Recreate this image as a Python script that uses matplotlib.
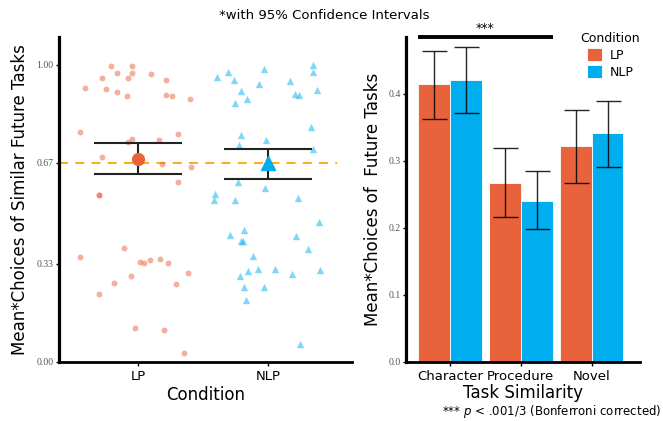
import numpy as np
import matplotlib.pyplot as plt

lp_color = '#E8623C'
nlp_color = '#00AEEF'

# left panel: one point per participant (horizontal jitter, mean choice)
lp_jit = [-0.208, -0.048, -0.164, -0.044, -0.275, -0.075, 0.100, 0.218, -0.410, -0.248,
          -0.164, -0.085, 0.213, 0.264, 0.398, -0.446, -0.079, -0.044, 0.164, 0.308,
          -0.282, 0.182, 0.405, 0.310, -0.305, -0.300, -0.446, -0.108, 0.013, 0.044,
          0.095, 0.172, 0.231, -0.052, -0.187, -0.305, 0.295, 0.382, -0.025, 0.198, 0.352]
lp_vals = [0.997, 0.997, 0.974, 0.974, 0.957, 0.957, 0.969, 0.949, 0.923, 0.918,
           0.907, 0.894, 0.898, 0.894, 0.885, 0.775, 0.741, 0.750, 0.747, 0.768,
           0.691, 0.667, 0.657, 0.606, 0.562, 0.560, 0.352, 0.383, 0.337, 0.332,
           0.344, 0.347, 0.334, 0.290, 0.266, 0.228, 0.261, 0.299, 0.115, 0.106, 0.028]
nlp_jit = [-0.395, -0.310, -0.264, -0.027, -0.069, -0.204, -0.163, -0.256, 0.169, 0.352,
           0.345, 0.212, 0.240, 0.378, 0.333, -0.210, -0.014, -0.225, 0.350, -0.231,
           -0.025, -0.408, -0.417, -0.254, 0.233, 0.394, -0.292, -0.182, -0.210, -0.188,
           0.215, 0.310, -0.113, -0.215, -0.152, -0.075, 0.054, 0.190, 0.400, -0.182,
           -0.028, -0.167, 0.252]
nlp_vals = [0.960, 0.976, 0.949, 0.986, 0.934, 0.911, 0.886, 0.872, 0.946, 1.001,
            0.976, 0.903, 0.900, 0.915, 0.792, 0.764, 0.746, 0.729, 0.715, 0.606,
            0.585, 0.564, 0.543, 0.546, 0.553, 0.469, 0.428, 0.443, 0.408, 0.408,
            0.424, 0.381, 0.357, 0.289, 0.306, 0.311, 0.312, 0.295, 0.308, 0.252,
            0.253, 0.209, 0.059]

cond_labels = ['LP', 'NLP']
cond_means = [0.683, 0.669]
cond_lo = [0.632, 0.616]
cond_hi = [0.736, 0.716]
chance = 0.67

# right panel: mean choices by task similarity
sim_labels = ['Character', 'Procedure', 'Novel']
lp_bar = [0.414, 0.267, 0.3225]
lp_lo = [0.362, 0.216, 0.2674]
lp_hi = [0.4635, 0.319, 0.3756]
nlp_bar = [0.420, 0.2405, 0.341]
nlp_lo = [0.3717, 0.1978, 0.2906]
nlp_hi = [0.4705, 0.2847, 0.3896]

fig = plt.figure(figsize=(6.63, 4.21), dpi=100)
tick_font = dict(family='Liberation Serif', size=7, color='#555555')

# ---- left panel ----
ax = fig.add_axes([0.089, 0.141, 0.442, 0.772])
ax.scatter(1 + np.array(lp_jit), lp_vals, s=18, marker='o', color=lp_color,
           alpha=0.5, linewidths=0, zorder=2)
ax.scatter(2 + np.array(nlp_jit), nlp_vals, s=28, marker='^', color=nlp_color,
           alpha=0.5, linewidths=0, zorder=2)
ax.axhline(chance, xmax=0.95, color='#FFA500', lw=1.3, dashes=(5, 4), zorder=1)
for i, (m, lo, hi) in enumerate(zip(cond_means, cond_lo, cond_hi)):
    ax.errorbar(i + 1, m, yerr=[[m - lo], [hi - m]], color='#222222', lw=1.5,
                capsize=32, capthick=1.5, fmt='none', zorder=3)
ax.plot(1, cond_means[0], 'o', color=lp_color, ms=8.5, zorder=4)
ax.plot(2, cond_means[1], '^', color=nlp_color, ms=10.5, zorder=4)

ax.set_xlim(0.39, 2.65)
ax.set_ylim(0, 1.095)
ax.set_xticks([1, 2])
ax.set_xticklabels(cond_labels, fontsize=9.5)
ax.set_yticks([0, 0.33, 0.67, 1.0])
ax.set_yticklabels(['0.00', '0.33', '0.67', '1.00'], fontdict=tick_font)
ax.set_xlabel('Condition', fontsize=12, labelpad=2)
ax.set_ylabel('Mean*Choices of Similar Future Tasks', fontsize=12, labelpad=5)
for s in ['top', 'right']:
    ax.spines[s].set_visible(False)
ax.spines['left'].set_linewidth(2.3)
ax.spines['bottom'].set_linewidth(2)
ax.tick_params(axis='x', length=3, width=1, pad=3)
ax.tick_params(axis='y', length=2, width=1, pad=2)

# ---- right panel ----
ax2 = fig.add_axes([0.613, 0.141, 0.352, 0.770])
x = np.arange(len(sim_labels))
w = 0.45
b1 = ax2.bar(x - w / 2, lp_bar, w, color=lp_color, edgecolor='white', lw=0.6, label='LP')
b2 = ax2.bar(x + w / 2, nlp_bar, w, color=nlp_color, edgecolor='white', lw=0.6, label='NLP')
ax2.errorbar(x - w / 2, lp_bar,
             yerr=[np.array(lp_bar) - lp_lo, np.array(lp_hi) - lp_bar],
             fmt='none', color='black', alpha=0.85, lw=1, capsize=9, capthick=1)
ax2.errorbar(x + w / 2, nlp_bar,
             yerr=[np.array(nlp_bar) - nlp_lo, np.array(nlp_hi) - nlp_bar],
             fmt='none', color='black', alpha=0.85, lw=1, capsize=9, capthick=1)

ax2.set_xlim(-0.61, 2.68)
ax2.set_ylim(0, 0.484)
ax2.set_xticks(x)
ax2.set_xticklabels(sim_labels, fontsize=9.5)
ax2.set_yticks([0, 0.1, 0.2, 0.3, 0.4])
ax2.set_yticklabels(['0.0', '0.1', '0.2', '0.3', '0.4'], fontdict=tick_font)
ax2.set_xlabel('Task Similarity', fontsize=12, labelpad=1)
ax2.set_ylabel('Mean*Choices of  Future Tasks', fontsize=12, labelpad=5)
for s in ['top', 'right']:
    ax2.spines[s].set_visible(False)
ax2.spines['left'].set_linewidth(2.3)
ax2.spines['bottom'].set_linewidth(2)
ax2.tick_params(axis='x', length=3, width=1, pad=3)
ax2.tick_params(axis='y', length=2, width=1, pad=2)

# significance bracket over Character vs Procedure
ax2.plot([x[0] - w, x[1] + w], [0.484, 0.484], color='black', lw=2.8,
         clip_on=False, solid_capstyle='butt')
ax2.text((x[0] + x[1]) / 2, 0.488, '***', ha='center', va='bottom', fontsize=9)

fig.legend(handles=[b1, b2], labels=['LP', 'NLP'], title='Condition',
           loc='upper left', bbox_to_anchor=(0.868, 0.937), frameon=False,
           fontsize=9, title_fontsize=9, handlelength=1.2, handleheight=1.3,
           handletextpad=0.6, labelspacing=0.25, borderaxespad=0)

fig.text(0.489, 0.964, '*with 95% Confidence Intervals', ha='center',
         va='center', fontsize=9.5)
fig.text(0.998, 0.022, '*** $p$ < .001/3 (Bonferroni corrected)', ha='right',
         va='center', fontsize=8.5)

fig.savefig('out.png', dpi=100)
